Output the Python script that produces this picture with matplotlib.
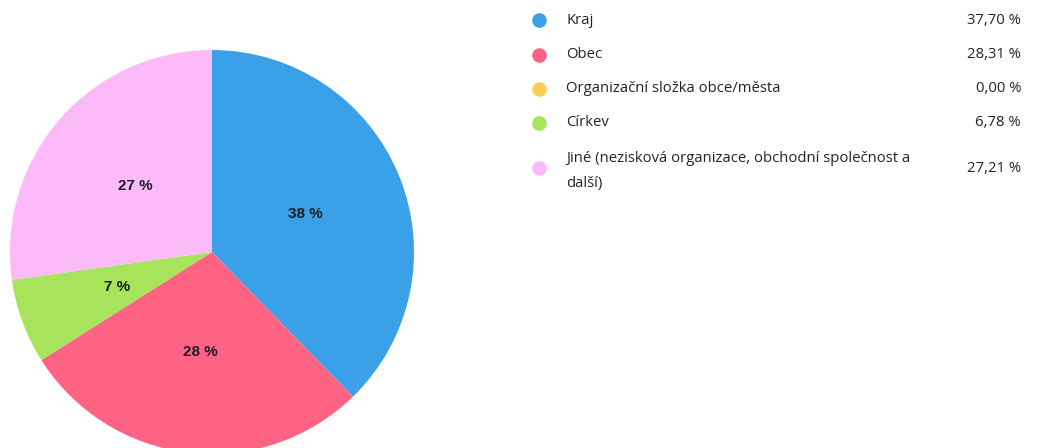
import matplotlib
matplotlib.use("Agg")
import matplotlib.pyplot as plt
from matplotlib.lines import Line2D
import numpy as np

# Values and labels
labels = ["Kraj", "Obec", "Organizační složka obce/města", "Církev",
          "Jiné (nezisková organizace, obchodní společnost a\ndalší)"]
shares = [37.70, 28.31, 0.00, 6.78, 27.21]
value_labels = ["37,70 %", "28,31 %", "0,00 %", "6,78 %", "27,21 %"]
colors = ["#3aa0e8", "#ff6384", "#ffcd56", "#a8e35c", "#fcbbf8"]

W, H = 1048, 448
fig = plt.figure(figsize=(W / 100, H / 100), dpi=100)

# pie centre (212, 252) px from top-left, radius ~202 px
cx, cy, r = 212, 252, 202
ax = fig.add_axes([(cx - r) / W, (H - cy - r) / H, 2 * r / W, 2 * r / H])
wedges, _ = ax.pie(shares, colors=colors, startangle=90, counterclock=False,
                   radius=1.0, wedgeprops=dict(linewidth=0))
ax.set_xlim(-1, 1)
ax.set_ylim(-1, 1)
ax.set_aspect("equal")
ax.axis("off")

# percentage labels at half radius, middle of each slice
start = 90.0
for s in shares:
    sweep = s / 100 * 360
    if s > 0:
        mid = np.deg2rad(start - sweep / 2)
        ax.text(0.5 * np.cos(mid), 0.5 * np.sin(mid), "%d %%" % round(s),
                ha="center", va="center", fontsize=11, fontweight="bold",
                color="#1c1c24", family="Liberation Sans")
    start -= sweep

# legend drawn by hand
dots_y = [20, 55, 89, 123, 168]
text_y = [20, 55, 89, 123, 171]
for lab, val, col, yd, yt in zip(labels, value_labels, colors, dots_y, text_y):
    fig.add_artist(Line2D([539 / W], [1 - yd / H], marker="o", markersize=9.5,
                          color=col, linestyle="none", transform=fig.transFigure))
    fig.text(566 / W, 1 - yt / H, lab, ha="left", va="center", fontsize=10.7,
             family="Open Sans", color="#222222", linespacing=1.85)
    fig.text(1021 / W, 1 - yd / H, val, ha="right", va="center", fontsize=10.7,
             family="Open Sans", color="#222222")

fig.savefig("out.png", dpi=100)
